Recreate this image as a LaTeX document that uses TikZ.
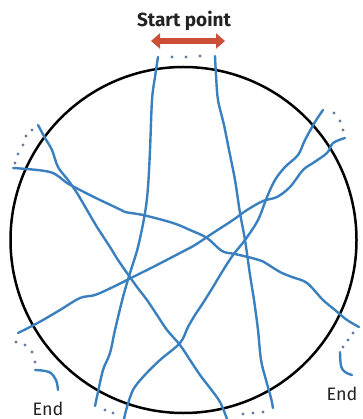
\documentclass[tikz,border=0pt]{standalone}
\usepackage{fontspec}
\setmainfont{Fira Sans}
\usetikzlibrary{arrows.meta}
\definecolor{trail}{RGB}{58,128,190}
\definecolor{dotc}{RGB}{100,125,160}
\definecolor{arrowred}{RGB}{205,78,55}
\definecolor{txt}{RGB}{35,35,35}
\tikzset{
  trailline/.style={draw=trail, line width=2.4pt, line cap=round, line join=round},
  trdot/.style={fill=dotc, draw=none},
  rim/.style={draw=black, line width=2.5pt},
  lbl/.style={text=txt, font=\fontsize{18}{20}\selectfont, inner sep=0pt, anchor=base},
}
\begin{document}
\begin{tikzpicture}[x=1pt,y=-1pt]
\useasboundingbox (0,0) rectangle (362,419);
% circle
\draw[rim] (183.5,240) circle[radius=173];
% start arrow and label
\node[lbl, font=\fontsize{19}{21}\selectfont\bfseries] (start) at (184,27) {Start point};
\draw[draw=arrowred, line width=6.5pt, {Triangle[width=15pt,length=9pt]}-{Triangle[width=15pt,length=9pt]}] (151,41) -- (225,41);
% end labels
\node[lbl] (endl) at (48,415) {End};
\node[lbl] (endr) at (342,400) {End};
% trail lines
\draw[trailline] plot[smooth, tension=0.55] coordinates {(158,57) (155,77) (152,100) (150,150) (148,187) (145,213) (138,247) (130,273) (123,297) (115,330) (110,353) (103,370) (98,392) (95,406)};
\draw[trailline] plot[smooth, tension=0.55] coordinates {(215,56) (216,75) (218,100) (224,125) (229,150) (235,180) (240,213) (245,240) (250,275) (254,300) (258,330) (261,360) (266,380) (271,398) (273,408)};
\draw[trailline] plot[smooth, tension=0.55] coordinates {(38,125) (45,138) (52,150) (58,167) (68,180) (77,193) (87,210) (97,227) (110,247) (118,260) (127,273) (137,287) (147,300) (157,315) (167,330) (180,345) (190,360) (200,375) (210,388) (220,402) (227,419)};
\draw[trailline] plot[smooth, tension=0.55] coordinates {(13,168) (50,172) (67,183) (80,190) (100,200) (117,208) (125,212) (143,215) (173,223) (190,230) (207,238) (222,251) (235,254) (252,258) (262,261) (280,272) (292,277) (307,283) (323,300) (335,310) (347,320) (359,327)};
\draw[trailline] plot[smooth, tension=0.55] coordinates {(323,110) (315,122) (305,140) (298,155) (285,167) (275,180) (267,197) (258,220) (245,240) (233,255) (222,272) (213,287) (203,303) (195,315) (188,327) (180,343) (160,360) (143,377) (133,390) (127,407) (124,419)};
\draw[trailline] plot[smooth, tension=0.55] coordinates {(345,138) (333,143) (327,153) (313,163) (303,170) (290,187) (277,197) (263,201) (247,210) (233,220) (213,233) (195,245) (180,253) (153,267) (133,277) (113,287) (95,295) (80,298) (60,310) (43,320) (30,327) (18,333)};
% hooks to end labels
\draw[trailline] plot[smooth, tension=0.6] coordinates {(35,370) (49,372) (56,380) (58,390)};
\draw[trailline] plot[smooth, tension=0.6] coordinates {(340,352) (341,366) (345,372) (352,375)};
% dotted gaps
\foreach \p in {(172,57),(186,57),(200,56)} \fill[trdot] \p circle[radius=1.6];
\foreach \p in {(32,130),(26,136),(23,145),(18,154),(15,163)} \fill[trdot] \p circle[radius=1.6];
\foreach \p in {(334,113),(340,121),(343,130)} \fill[trdot] \p circle[radius=1.6];
\foreach \p in {(16,342),(25,345),(32,352),(35,362)} \fill[trdot] \p circle[radius=1.6];
\foreach \p in {(105,410),(113,413)} \fill[trdot] \p circle[radius=1.6];
\foreach \p in {(353,333),(348,340),(343,347)} \fill[trdot] \p circle[radius=1.6];
\foreach \p in {(243,414),(253,413),(263,412)} \fill[trdot] \p circle[radius=1.6];
\end{tikzpicture}
\end{document}
